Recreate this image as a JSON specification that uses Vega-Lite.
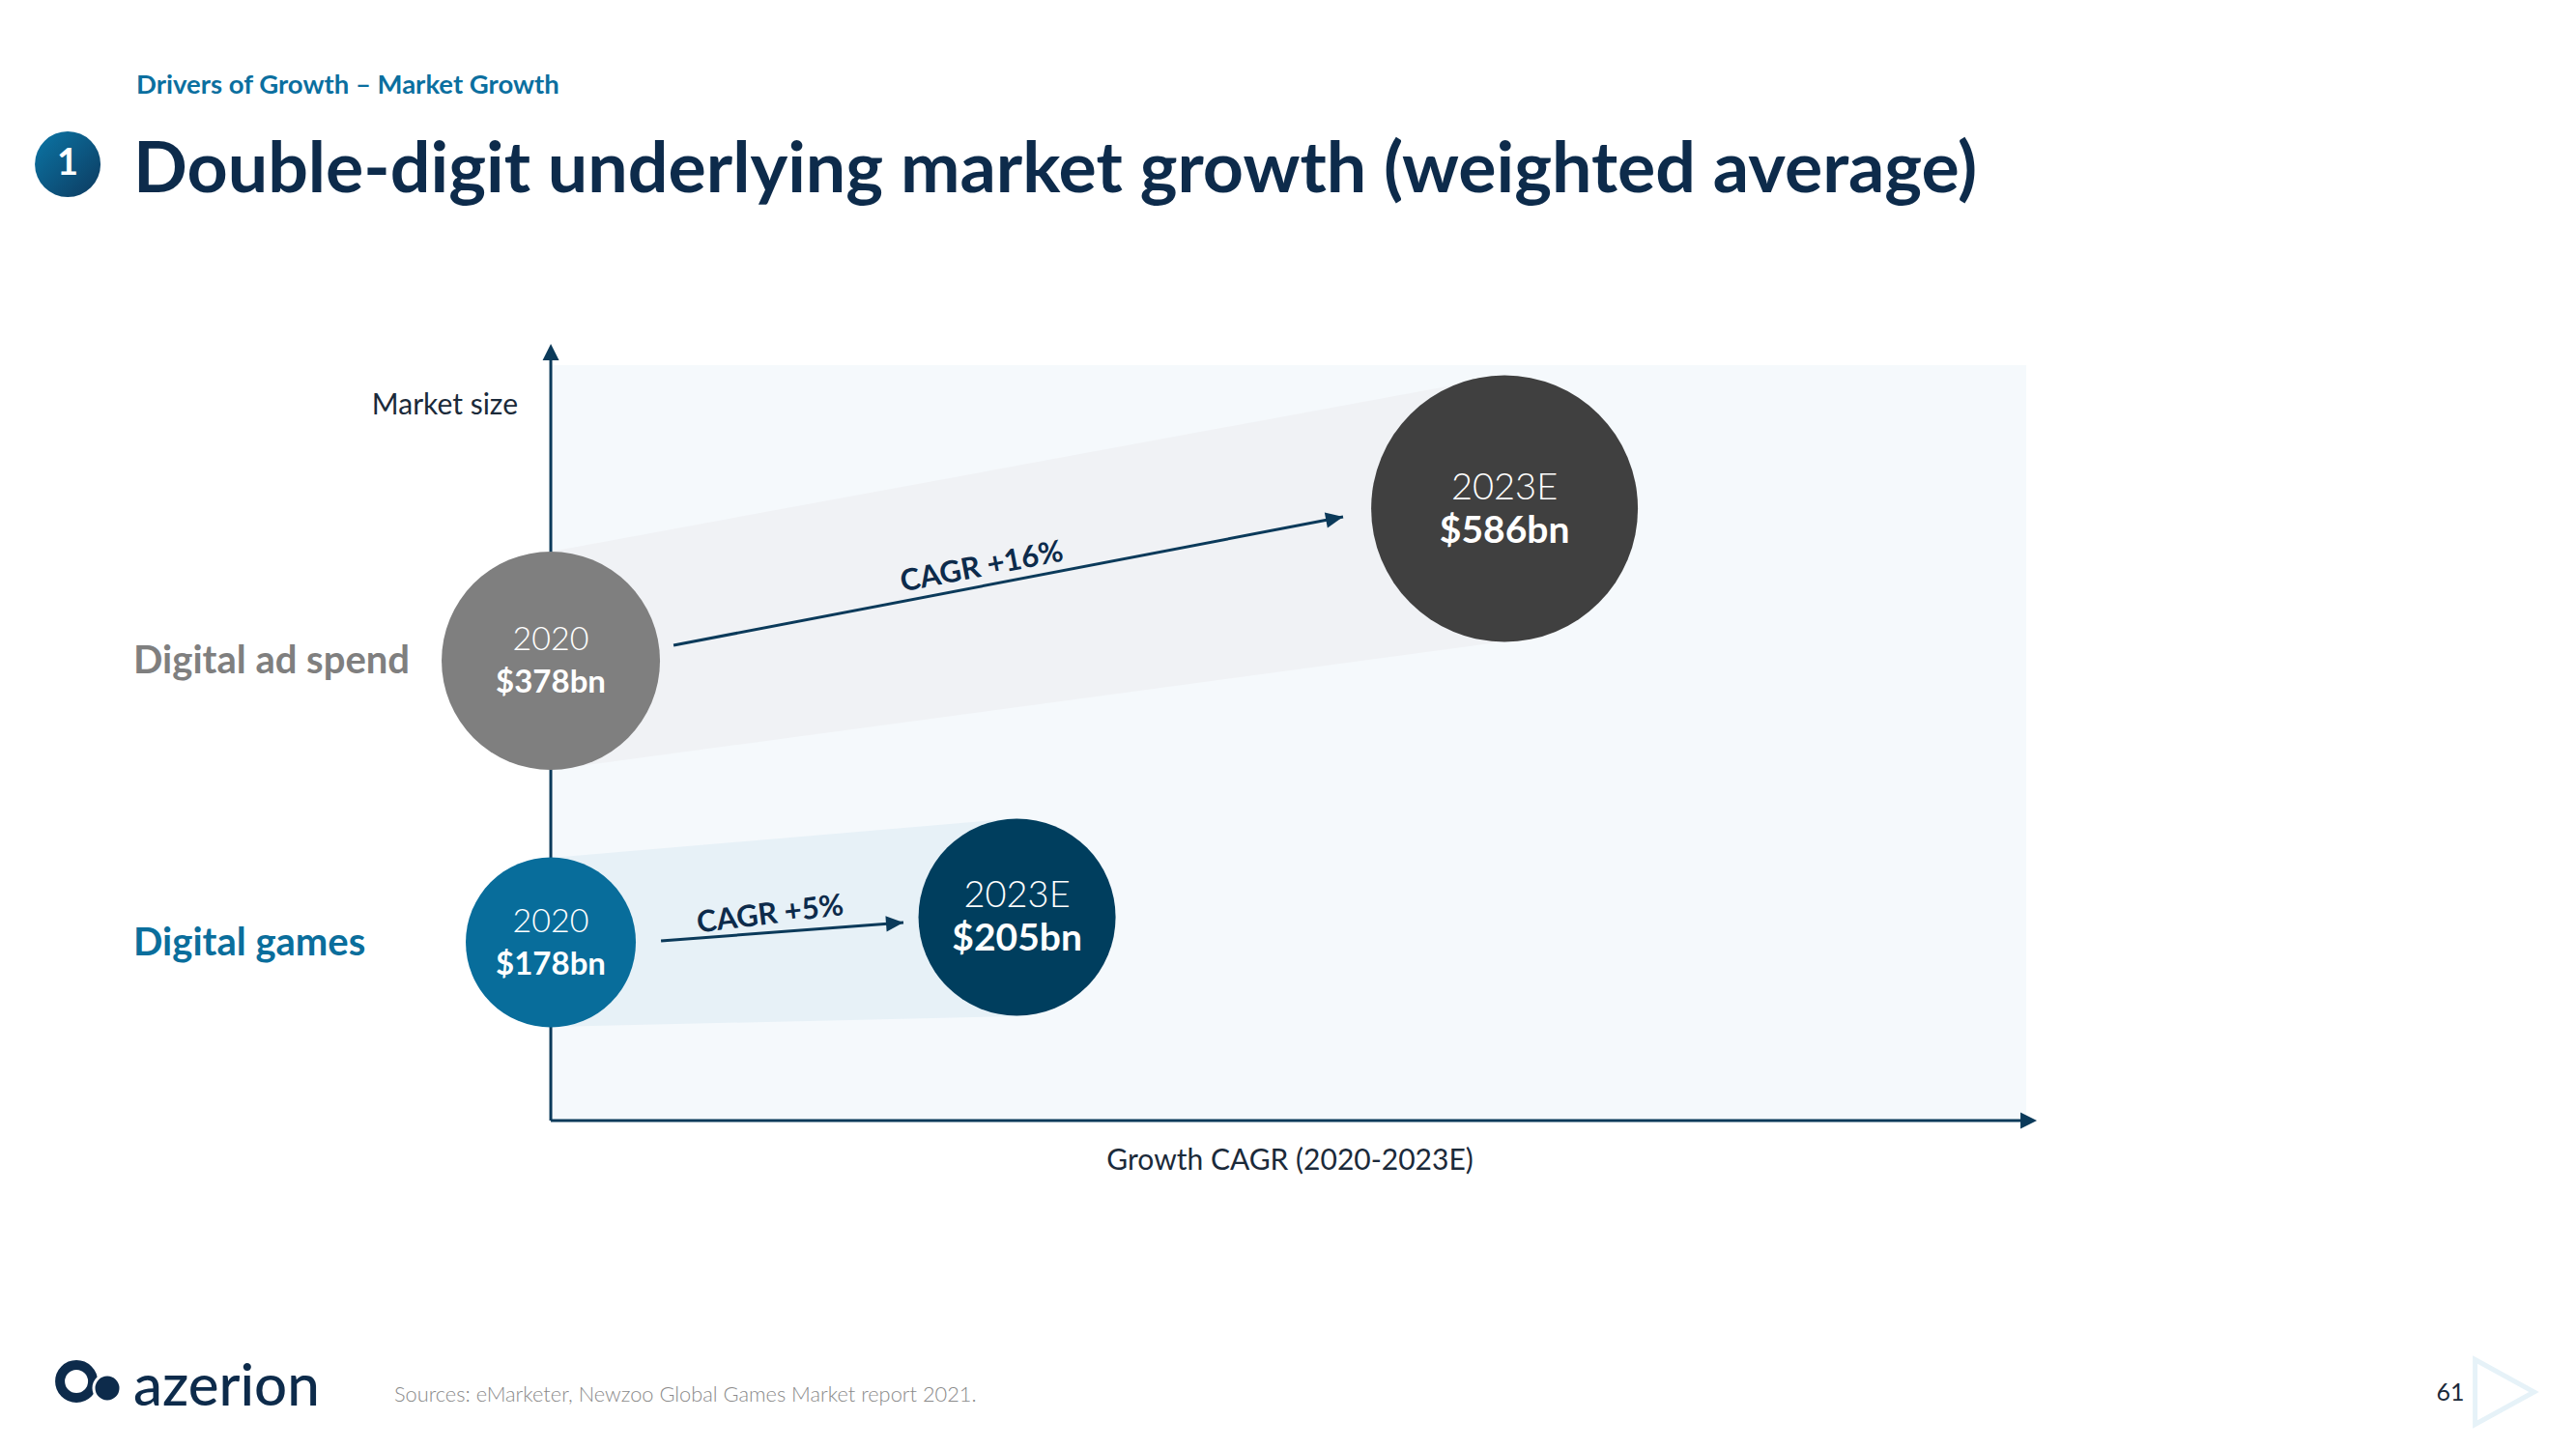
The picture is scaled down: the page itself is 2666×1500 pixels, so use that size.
{
  "$schema": "https://vega.github.io/schema/vega-lite/v6.json",
  "width": 2666,
  "height": 1500,
  "autosize": {"type": "none"},
  "padding": 0,
  "background": "#ffffff",
  "config": {"view": {"stroke": null}, "font": "Lato"},
  "datasets": {
    "circles": [
      {"segment": "Digital ad spend", "year": "2020", "value": 378, "label": "$378bn", "gx": 0, "gy": 60.87},
      {"segment": "Digital ad spend", "year": "2023E", "value": 586, "label": "$586bn", "gx": 64.64, "gy": 81.01},
      {"segment": "Digital games", "year": "2020", "value": 178, "label": "$178bn", "gx": 0, "gy": 23.59},
      {"segment": "Digital games", "year": "2023E", "value": 205, "label": "$205bn", "gx": 31.6, "gy": 26.92}
    ],
    "arrows": [
      {"segment": "Digital ad spend", "cagr": "CAGR +16%", "gx": 8.32, "gy": 62.92, "gx2": 53.7, "gy2": 79.92},
      {"segment": "Digital games", "cagr": "CAGR +5%", "gx": 7.47, "gy": 23.79, "gx2": 23.9, "gy2": 26.21}
    ]
  },
  "encoding": {
    "x": {"field": "gx", "type": "quantitative", "scale": {"domain": [-37.33, 137.26], "nice": false, "zero": false}, "axis": null},
    "y": {"field": "gy", "type": "quantitative", "scale": {"domain": [-43.48, 148.34], "nice": false, "zero": false}, "axis": null}
  },
  "layer": [
    {
      "data": {"values": [{"gx": 0, "gx2": 100, "gy": 0, "gy2": 100}]},
      "mark": {"type": "rect", "color": "#f5f9fc"},
      "encoding": {"x2": {"field": "gx2"}, "y2": {"field": "gy2"}}
    },
    {
      "data": {"values": [
        {"band": "Digital ad spend", "gx": 0, "gy": 75.32, "gy2": 46.42},
        {"band": "Digital ad spend", "gx": 64.64, "gy": 98.59, "gy2": 63.43}
      ]},
      "mark": {"type": "area", "color": "#f0f2f5"},
      "encoding": {"y2": {"field": "gy2"}}
    },
    {
      "data": {"values": [
        {"band": "Digital games", "gx": 0, "gy": 34.78, "gy2": 12.4},
        {"band": "Digital games", "gx": 31.6, "gy": 40.03, "gy2": 13.81}
      ]},
      "mark": {"type": "area", "color": "#e7f1f7"},
      "encoding": {"y2": {"field": "gy2"}}
    },
    {
      "data": {"values": [
        {"axis": "Market size", "gx": 0, "gy": 0, "gx2": 0, "gy2": 101.5},
        {"axis": "Growth CAGR (2020-2023E)", "gx": 0, "gy": 0, "gx2": 100, "gy2": 0}
      ]},
      "mark": {"type": "rule", "color": "#0b3a5a", "strokeWidth": 3},
      "encoding": {"x2": {"field": "gx2"}, "y2": {"field": "gy2"}}
    },
    {
      "data": {"values": [{"axis": "Market size", "gx": 0, "gy": 102.81}]},
      "mark": {"type": "point", "shape": "M0,0L-2,-1L-2,1Z", "filled": true, "color": "#0b3a5a", "opacity": 1, "size": 289, "angle": -90, "strokeWidth": 0}
    },
    {
      "data": {"values": [{"axis": "Growth CAGR (2020-2023E)", "gx": 100.72, "gy": 0}]},
      "mark": {"type": "point", "shape": "M0,0L-2,-1L-2,1Z", "filled": true, "color": "#0b3a5a", "opacity": 1, "size": 289, "angle": 0, "strokeWidth": 0}
    },
    {
      "data": {"name": "arrows"},
      "mark": {"type": "rule", "color": "#0b3a5a", "strokeWidth": 3},
      "encoding": {"x2": {"field": "gx2"}, "y2": {"field": "gy2"}}
    },
    {
      "data": {"values": [{"segment": "Digital ad spend", "gx": 53.7, "gy": 79.92}]},
      "mark": {"type": "point", "shape": "M0,0L-2,-0.9L-2,0.9Z", "filled": true, "color": "#0b3a5a", "opacity": 1, "size": 324, "angle": -10.86, "strokeWidth": 0}
    },
    {
      "data": {"values": [{"segment": "Digital games", "gx": 23.9, "gy": 26.21}]},
      "mark": {"type": "point", "shape": "M0,0L-2,-0.9L-2,0.9Z", "filled": true, "color": "#0b3a5a", "opacity": 1, "size": 324, "angle": -4.33, "strokeWidth": 0}
    },
    {
      "data": {"values": [{"text": "CAGR +16%", "gx": 29.21, "gy": 73.2}]},
      "mark": {"type": "text", "angle": -10.9, "fontWeight": "bold", "fontSize": 31, "color": "#0d2b4b", "baseline": "middle", "align": "center"},
      "encoding": {"text": {"field": "text", "type": "nominal"}}
    },
    {
      "data": {"values": [{"text": "CAGR +5%", "gx": 14.87, "gy": 27.2}]},
      "mark": {"type": "text", "angle": -7, "fontWeight": "bold", "fontSize": 31, "color": "#0d2b4b", "baseline": "middle", "align": "center"},
      "encoding": {"text": {"field": "text", "type": "nominal"}}
    },
    {
      "data": {"name": "circles"},
      "mark": {"type": "circle", "opacity": 1, "strokeWidth": 0},
      "encoding": {
        "color": {"field": "label", "type": "nominal", "scale": {"domain": ["$378bn", "$586bn", "$178bn", "$205bn"], "range": ["#7f7f7f", "#404040", "#086d9b", "#003e5e"]}, "legend": null},
        "size": {"field": "value", "type": "quantitative", "scale": {"domain": [178, 205, 378, 586], "range": [30976, 41616, 51076, 76176]}, "legend": null}
      }
    },
    {
      "data": {"name": "circles"},
      "mark": {"type": "text", "color": "#ffffff", "fontWeight": 300, "baseline": "middle", "align": "center", "dy": -21},
      "encoding": {
        "text": {"field": "year", "type": "nominal"},
        "size": {"condition": {"test": "datum.year === '2020'", "value": 34}, "value": 38}
      }
    },
    {
      "data": {"name": "circles"},
      "mark": {"type": "text", "color": "#ffffff", "fontWeight": "bold", "baseline": "middle", "align": "center", "dy": 23},
      "encoding": {
        "text": {"field": "label", "type": "nominal"},
        "size": {"condition": {"test": "datum.year === '2020'", "value": 33}, "value": 39}
      }
    },
    {
      "data": {"values": [{"text": "Market size", "gx": -2.23, "gy": 94.6}]},
      "mark": {"type": "text", "align": "right", "baseline": "middle", "fontSize": 30, "color": "#1b2a3a"},
      "encoding": {"text": {"field": "text", "type": "nominal"}}
    },
    {
      "data": {"values": [{"text": "Growth CAGR (2020-2023E)", "gx": 50.1, "gy": -5.4}]},
      "mark": {"type": "text", "align": "center", "baseline": "middle", "fontSize": 30, "color": "#1b2a3a"},
      "encoding": {"text": {"field": "text", "type": "nominal"}}
    },
    {
      "data": {"values": [{"text": "Digital ad spend", "gx": -28.29, "gy": 60.7}]},
      "mark": {"type": "text", "align": "left", "baseline": "middle", "fontSize": 40, "fontWeight": "bold", "color": "#7f7f7f"},
      "encoding": {"text": {"field": "text", "type": "nominal"}}
    },
    {
      "data": {"values": [{"text": "Digital games", "gx": -28.29, "gy": 23.4}]},
      "mark": {"type": "text", "align": "left", "baseline": "middle", "fontSize": 40, "fontWeight": "bold", "color": "#0a6e9c"},
      "encoding": {"text": {"field": "text", "type": "nominal"}}
    },
    {
      "data": {"values": [{"text": "Drivers of Growth – Market Growth", "gx": -28.09, "gy": 137.0}]},
      "mark": {"type": "text", "align": "left", "baseline": "middle", "fontSize": 27.5, "fontWeight": "bold", "color": "#0b6f9f"},
      "encoding": {"text": {"field": "text", "type": "nominal"}}
    },
    {
      "data": {"values": [{"text": "Double-digit underlying market growth (weighted average)", "gx": -28.29, "gy": 125.7}]},
      "mark": {"type": "text", "align": "left", "baseline": "middle", "fontSize": 73.5, "fontWeight": "bold", "color": "#0d2b4b"},
      "encoding": {"text": {"field": "text", "type": "nominal"}}
    },
    {
      "data": {"values": [{"badge": "1", "gx": -32.74, "gy": 126.6}]},
      "mark": {"type": "point", "shape": "circle", "filled": true, "opacity": 1, "size": 4624, "strokeWidth": 0,
        "color": {"gradient": "linear", "x1": 0, "y1": 0, "x2": 1, "y2": 1, "stops": [{"offset": 0, "color": "#0b76a6"}, {"offset": 1, "color": "#0d3a5f"}]}}
    },
    {
      "data": {"values": [{"badge": "1", "gx": -32.74, "gy": 126.6}]},
      "mark": {"type": "text", "align": "center", "baseline": "middle", "fontSize": 38, "fontWeight": "bold", "color": "#ffffff"},
      "encoding": {"text": {"field": "badge", "type": "nominal"}}
    },
    {
      "data": {"values": [{"part": "logo ring", "gx": -32.15, "gy": -34.53}]},
      "mark": {"type": "point", "shape": "circle", "filled": false, "opacity": 1, "size": 1156, "strokeWidth": 10, "color": "#0d2b4b"}
    },
    {
      "data": {"values": [{"part": "logo dot", "gx": -30.06, "gy": -35.42}]},
      "mark": {"type": "point", "shape": "circle", "filled": true, "opacity": 1, "size": 784, "strokeWidth": 3, "fill": "#0d2b4b", "stroke": "#ffffff"}
    },
    {
      "data": {"values": [{"text": "azerion", "gx": -28.29, "gy": -35.42}]},
      "mark": {"type": "text", "align": "left", "baseline": "middle", "fontSize": 60, "fontWeight": 500, "color": "#0d2b4b"},
      "encoding": {"text": {"field": "text", "type": "nominal"}}
    },
    {
      "data": {"values": [{"text": "Sources: eMarketer, Newzoo Global Games Market report 2021.", "gx": -10.61, "gy": -36.32}]},
      "mark": {"type": "text", "align": "left", "baseline": "middle", "fontSize": 21.8, "fontWeight": 300, "color": "#8a8a8a"},
      "encoding": {"text": {"field": "text", "type": "nominal"}}
    },
    {
      "data": {"values": [{"text": "61", "gx": 128.75, "gy": -36.06}]},
      "mark": {"type": "text", "align": "center", "baseline": "middle", "fontSize": 25, "color": "#1b2a3a"},
      "encoding": {"text": {"field": "text", "type": "nominal"}}
    },
    {
      "data": {"values": [{"part": "next", "gx": 132.42, "gy": -35.93}]},
      "mark": {"type": "point", "shape": "M-0.91,-1L0.91,0L-0.91,1Z", "filled": false, "opacity": 1, "size": 4489, "strokeWidth": 5, "color": "#e6f2f8"}
    }
  ]
}
